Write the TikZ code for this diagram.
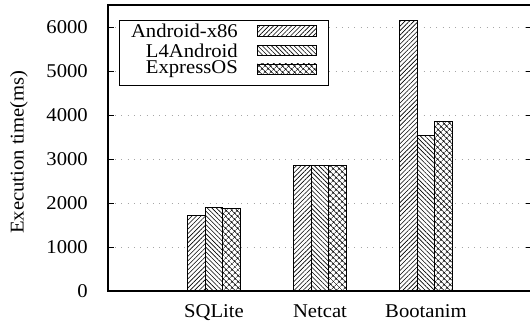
\documentclass[tikz,border=0pt]{standalone}
\usepackage{fontspec}
\setmainfont{Liberation Serif}[FakeStretch=1.06]
\usepackage{tikz}
\usetikzlibrary{patterns.meta, calc}
\tikzset{
  frame/.style={line width=1.3pt},
  tick/.style={line width=0.9pt},
  gridline/.style={gray!70, line width=0.7pt, dash pattern=on 1pt off 5.3pt},
  bar/.style={draw, line width=0.9pt, preaction={fill=white}},
  androidbar/.style={bar, pattern={Lines[angle=45, distance=3.2pt, line width=0.6pt]}},
  l4bar/.style={bar, pattern={Lines[angle=-45, distance=3.2pt, line width=0.6pt]}},
  expressbar/.style={bar, pattern={Hatch[angle=45, distance=4pt, line width=0.6pt]}},
  lbl/.style={font=\fontsize{19.5}{20}\selectfont, inner sep=0pt},
  legendbox/.style={draw, line width=0.9pt, fill=white},
}

\begin{document}
\begin{tikzpicture}[x=1pt, y=1pt]
  \useasboundingbox (0,0) rectangle (530,322);
  % plot area: one x unit per benchmark, y in ms
  \begin{scope}[shift={(108,31)}, x=106pt, y=0.044pt]
    % grid
    \foreach \v in {1000,2000,...,6000}
      \draw[gridline] ([xshift=7pt]0,\v) -- ([xshift=-7pt]4,\v);
    % legend
    \draw[legendbox] (0.1038,6155) rectangle (2.0755,4678);
    \node[lbl, anchor=east] (lgA) at (1.2264,5909) {Android-x86};
    \node[lbl, anchor=east] (lgL) at (1.2264,5468) {L4Android};
    \node[lbl, anchor=east] (lgE) at (1.2264,5045) {ExpressOS};
    \draw[androidbar] (1.4123,5795) rectangle (1.9689,6023);
    \draw[l4bar] (1.4123,5355) rectangle (1.9689,5582);
    \draw[expressbar] (1.4123,4932) rectangle (1.9689,5159);
    % bars
    \foreach \c/\a/\l/\e in {1/1711/1893/1870, 2/2856/2856/2856, 3/6143/3530/3848} {
      \draw[androidbar] (\c-0.252,0) rectangle (\c-0.084,\a);
      \draw[l4bar] (\c-0.084,0) rectangle (\c+0.084,\l);
      \draw[expressbar] (\c+0.084,0) rectangle (\c+0.252,\e);
    }
    % ticks and labels
    \foreach \v in {0,1000,...,6000} {
      \draw[tick] (0,\v) -- ([xshift=6pt]0,\v);
      \draw[tick] (4,\v) -- ([xshift=-6pt]4,\v);
      \node[lbl, anchor=east] (y\v) at ([xshift=-20pt]0,\v) {\v};
    }
    \node[lbl, anchor=base] (xsql) at ([yshift=-26pt]1,0) {SQLite};
    \node[lbl, anchor=base] (xnet) at ([yshift=-26pt]2,0) {Netcat};
    \node[lbl, anchor=base] (xboot) at ([yshift=-26pt]3,0) {Bootanim};
    \draw[frame] (0,0) rectangle (4,6500);
  \end{scope}
  \node[lbl, rotate=90] (ylab) at (19,170) {Execution time(ms)};
\end{tikzpicture}
\end{document}
